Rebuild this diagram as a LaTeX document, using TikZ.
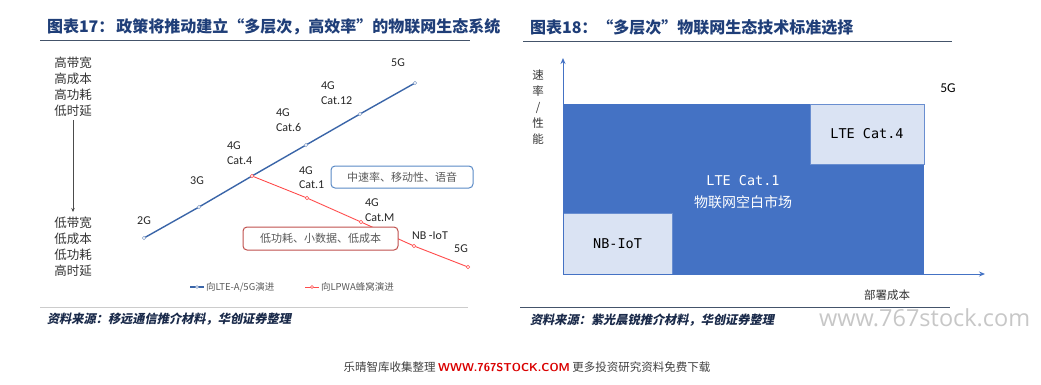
\documentclass[tikz,border=0pt]{standalone}
\usepackage{fontspec}
\setmainfont{Carlito}
\newfontfamily\cjk{Noto Sans CJK SC}
\newfontfamily\cjkit{Noto Sans CJK SC}[FakeSlant=0.2]
\newfontfamily\mono{DejaVu Sans Mono}
\newfontfamily\wmfont{Open Sans}
\usetikzlibrary{arrows.meta}
\definecolor{navy}{HTML}{1F3E78}
\definecolor{srcc}{HTML}{1A2A4A}
\definecolor{lblue}{HTML}{3A65A8}
\definecolor{lred}{HTML}{FF4B4B}
\definecolor{bxblue}{HTML}{5A8AC6}
\definecolor{bxred}{HTML}{C0504D}
\definecolor{fblue}{HTML}{4472C4}
\definecolor{flight}{HTML}{DAE3F3}
\definecolor{rulec}{HTML}{44546A}
\definecolor{txtg}{HTML}{595959}
\tikzset{
  every node/.style={inner sep=0pt, outer sep=0pt},
  title/.style={font=\cjk\bfseries\fontsize{16}{16}\selectfont, text=navy, anchor=west},
  src/.style={font=\cjkit\bfseries\fontsize{12.2}{13}\selectfont, text=srcc, anchor=west},
  side/.style={font=\cjk\fontsize{12.5}{16}\selectfont, text=black!80, align=center},
  glab/.style={font=\fontsize{12}{14.5}\selectfont, text=black!85, align=left, anchor=west},
  bmark/.style={circle, draw=lblue!60, fill=white, line width=0.5pt, minimum size=3.5pt},
  rmark/.style={circle, draw=lred, fill=white, line width=0.5pt, minimum size=3.5pt},
  note/.style={rounded corners=4pt, fill=white, line width=1pt, font=\cjk\fontsize{11}{12}\selectfont, text=txtg},
  legtxt/.style={font=\cjk\fontsize{9.5}{10}\selectfont, text=txtg, anchor=west},
  monolab/.style={font=\mono\fontsize{13.5}{16}\selectfont, align=center},
  axisarrow/.style={draw=fblue, line width=1pt, -{Stealth[length=6pt,width=5pt]}}
}
\begin{document}
\begin{tikzpicture}[x=1pt,y=-1pt]
\useasboundingbox (0,0) rectangle (1041,384);
% ===== Left panel =====
\node[title] (t17) at (47,27) {图表17：\hspace{2pt}政策将推动建立“多层次，高效率”的物联网生态系统};
\draw[draw=rulec, line width=1pt] (40,40.5) -- (470,40.5);
\node[side] (hi) at (73,87) {高带宽\\高成本\\高功耗\\低时延};
\node[side] (lo) at (73,247) {低带宽\\低成本\\低功耗\\高时延};
\draw[black!70, line width=0.6pt, -{Stealth[length=4pt,width=3.5pt]}] (hi.south) ++(0,3) coordinate (as) -- (73,212) coordinate (ae);
% blue line
\coordinate (b2g) at (144,238);
\coordinate (b3g) at (199,207);
\coordinate (bc4) at (252,176);
\coordinate (bc6) at (306,145);
\coordinate (bc12) at (360,114);
\coordinate (b5g) at (415,83);
\draw[lblue, line width=1.4pt] (b2g) -- (b3g) -- (bc4) -- (bc6) -- (bc12) -- (b5g);
% red line
\coordinate (rc1) at (307,198);
\coordinate (rcm) at (361,222);
\coordinate (rnb) at (414,246);
\coordinate (r5g) at (468,267);
\draw[lred, line width=0.9pt] (bc4) -- (rc1) -- (rcm) -- (rnb) -- (r5g);
\foreach \p in {b2g,b3g,bc6,bc12,b5g} \node[bmark] at (\p) {};
\foreach \p in {bc4,rc1,rcm,rnb,r5g} \node[rmark] at (\p) {};
% notes
\node[note, draw=bxblue, minimum width=142pt, minimum height=22pt] (nb) at (402,177) {中速率、移动性、语音};
\node[note, draw=bxred, minimum width=155pt, minimum height=23pt] (nr) at (320.5,238.5) {低功耗、小数据、低成本};
% generation labels
\node[glab, anchor=center] (l2g) at (144,221) {2G};
\node[glab, anchor=center] (l3g) at (197,181) {3G};
\node[glab] (lc4) at (227,153) {4G\\Cat.4};
\node[glab] (lc6) at (276,120) {4G\\Cat.6};
\node[glab] (lc12) at (321,93) {4G\\Cat.12};
\node[glab, anchor=center] (l5g) at (398,63) {5G};
\node[glab] (lc1) at (299,177.5) {4G\\Cat.1};
\node[glab] (lcm) at (365,210) {4G\\Cat.M};
\node[glab] (lnb) at (412,236) {NB -IoT};
\node[glab, anchor=center] (l5g2) at (461,249) {5G};
% legend
\coordinate (lg1a) at (190,287); \coordinate (lg1b) at (204,287);
\draw[lblue, line width=1.2pt] (lg1a) -- (lg1b);
\node[bmark, minimum size=3pt] at (197,287) {};
\node[legtxt] (lgt1) at (206,287) {向LTE-A/5G演进};
\coordinate (lg2a) at (305,287); \coordinate (lg2b) at (319,287);
\draw[lred, line width=0.8pt] (lg2a) -- (lg2b);
\node[rmark, minimum size=3pt] at (312,287) {};
\node[legtxt] (lgt2) at (321,287) {向LPWA蜂窝演进};
\draw[draw=black!20, line width=0.8pt] (40,307) -- (468,307);
\node[src] (s17) at (47,319.5) {资料来源：移远通信推介材料，华创证券整理};
% ===== Right panel =====
\node[title] (t18) at (530,27) {图表18：“多层次”物联网生态技术标准选择};
\draw[draw=rulec, line width=1pt] (523,41) -- (952,41);
\node[fill=fblue, minimum width=361pt, minimum height=170pt, anchor=north west] (big) at (563,104) {};
\node[fill=flight, draw=fblue!80, line width=0.5pt, minimum width=109pt, minimum height=61pt, anchor=south west] (nbb) at (563,274) {};
\node[fill=flight, draw=fblue!80, line width=0.5pt, minimum width=114pt, minimum height=60pt, anchor=north east] (c4b) at (924,104) {};
\node[monolab] (nbt) at (nbb.center) {NB-IoT};
\node[monolab] (c4t) at (c4b.center) {LTE Cat.4};
\node[monolab, text=white] (c1t) at (743,181) {LTE Cat.1};
\node[font=\cjk\fontsize{14}{16}\selectfont, text=white] (c1m) at (743,202) {物联网空白市场};
\coordinate (org) at (563,274);
\coordinate (ytop) at (563,58);
\coordinate (xend) at (985,274);
\draw[axisarrow] (org) -- (ytop);
\draw[axisarrow] (org) -- (xend);
\node[font=\fontsize{13.5}{14}\selectfont] (r5g) at (948,88) {5G};
\node[font=\cjk\fontsize{11.5}{16}\selectfont, text=black!80, align=center] (ylab) at (538,107.5) {速\\率\\/\\性\\能};
\node[font=\cjk\fontsize{11.5}{12}\selectfont, text=black!80] (xlab) at (887,295) {部署成本};
\draw[draw=rulec, line width=1pt] (520,307.5) -- (950,307.5);
\node[src] (s18) at (530,320) {资料来源：紫光晨锐推介材料，华创证券整理};
\node[font=\wmfont\fontsize{23.5}{24}\selectfont, text=black!22, anchor=west] (wm) at (819,318) {www.767stock.com};
% ===== Footer =====
\node[font=\fontsize{11.5}{12}\selectfont, text=black!75] (foot) at (527,367) {{\cjk 乐晴智库收集整理} {\color{red!85!black}\bfseries\sffamily WWW.767STOCK.COM} {\cjk 更多投资研究资料免费下载}};
\end{tikzpicture}
\end{document}
